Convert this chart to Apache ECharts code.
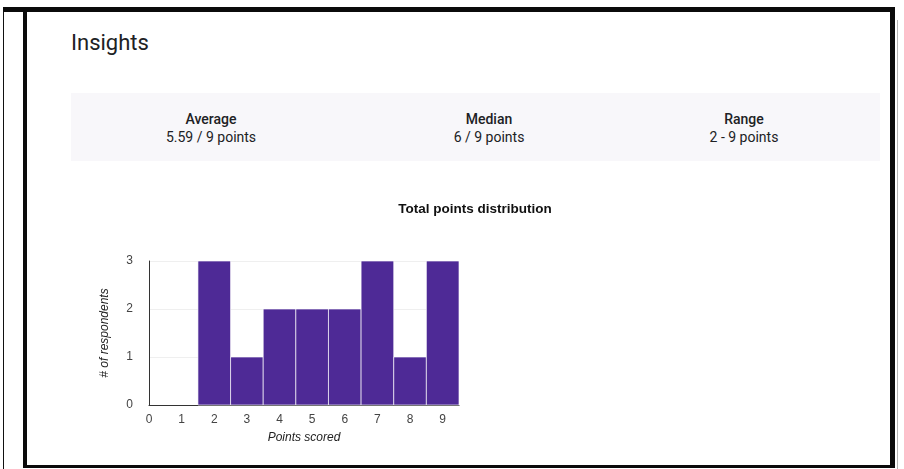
<!DOCTYPE html>
<html lang="en">

<head>
    <meta charset="UTF-8">
    <title>Insights</title>
    <script src="https://cdn.jsdelivr.net/npm/echarts@6/dist/echarts.min.js"></script>
    <style>
        body {
            margin: 0;
            width: 904px;
            height: 469px;
            background: #fff;
            position: relative;
            overflow: hidden;
            font-family: Roboto, "Noto Sans", sans-serif;
        }

        .abs {
            position: absolute;
        }

        #frame {
            left: 23px;
            top: 7px;
            width: 872px;
            height: 461px;
            box-sizing: border-box;
            border-top: 5px solid #0b0b0b;
            border-left: 4px solid #0b0b0b;
            border-right: 5px solid #0b0b0b;
            border-bottom: 3px solid #0b0b0b;
        }

        #heading {
            left: 71px;
            top: 30px;
            font-size: 22px;
            color: #202124;
        }

        #statbox {
            left: 71px;
            top: 93px;
            width: 809px;
            height: 68px;
            background: #f8f7fa;
        }

        .stat {
            top: 110px;
            width: 200px;
            margin-left: -100px;
            text-align: center;
            font-size: 14px;
            line-height: 18px;
            color: #202124;
        }

        .stat b {
            font-weight: 500;
        }

        #root {
            left: 0;
            top: 0;
            width: 904px;
            height: 469px;
        }
    </style>
</head>

<body>
    <div class="abs" style="left:3px;top:7px;width:1px;height:462px;background:#111"></div>
    <div class="abs" style="left:3px;top:7px;width:22px;height:5px;background:#0b0b0b"></div>
    <div class="abs" style="left:897px;top:20px;width:1px;height:449px;background:#b5b5b5"></div>
    <div id="frame" class="abs"></div>
    <div id="heading" class="abs">Insights</div>
    <div id="statbox" class="abs"></div>
    <div id="stats"></div>
    <div id="root" class="abs"></div>
    <script>
        // summary numbers
        var statLabels = ['Average', 'Median', 'Range'];
        var statValues = ['5.59 / 9 points', '6 / 9 points', '2 - 9 points'];
        var statCenters = [211, 489, 744];

        // histogram
        var points = [0, 1, 2, 3, 4, 5, 6, 7, 8, 9];
        var respondents = [0, 0, 3, 1, 2, 2, 2, 3, 1, 3];

        var statsEl = document.getElementById('stats');
        statLabels.forEach(function (lab, i) {
            var d = document.createElement('div');
            d.className = 'abs stat';
            d.style.left = statCenters[i] + 'px';
            d.innerHTML = '<b>' + lab + '</b><br>' + statValues[i];
            statsEl.appendChild(d);
        });

        var mychart = echarts.init(document.getElementById('root'));

        var axisFont = {
            fontFamily: 'Liberation Sans, Arial, sans-serif',
            fontSize: 12,
            color: '#444'
        };

        mychart.setOption({
            animation: false,
            graphic: [{
                type: 'text',
                x: 475,
                y: 209,
                style: {
                    text: 'Total points distribution',
                    fontFamily: 'Liberation Sans, Arial, sans-serif',
                    fontSize: 13.5,
                    fontWeight: 'bold',
                    fill: '#111',
                    align: 'center',
                    verticalAlign: 'middle'
                }
            }],
            grid: {
                left: 149,
                top: 261,
                width: 310,
                height: 144
            },
            xAxis: {
                type: 'value',
                min: 0,
                max: 9.5,
                interval: 1,
                name: 'Points scored',
                nameLocation: 'middle',
                nameGap: 27,
                nameTextStyle: {
                    fontFamily: 'Liberation Sans, Arial, sans-serif',
                    fontSize: 12,
                    fontStyle: 'italic',
                    color: '#222'
                },
                axisLine: { show: true, lineStyle: { color: '#333', width: 1 } },
                axisTick: { show: false },
                splitLine: { show: false },
                axisLabel: Object.assign({
                    margin: 9,
                    formatter: function (v) {
                        return v % 1 === 0 ? String(v) : '';
                    }
                }, axisFont)
            },
            yAxis: {
                type: 'value',
                min: 0,
                max: 3,
                interval: 1,
                name: '# of respondents',
                nameLocation: 'middle',
                nameGap: 38,
                nameTextStyle: {
                    fontFamily: 'Liberation Sans, Arial, sans-serif',
                    fontSize: 12,
                    fontStyle: 'italic',
                    color: '#222'
                },
                axisLine: { show: true, lineStyle: { color: '#333', width: 1 } },
                axisTick: { show: false },
                splitLine: { show: true, lineStyle: { color: '#efefef' } },
                axisLabel: Object.assign({ margin: 16 }, axisFont)
            },
            series: [{
                type: 'custom',
                data: points.map(function (p, i) {
                    return [p, respondents[i]];
                }),
                encode: { x: 0, y: 1 },
                renderItem: function (params, api) {
                    var x = api.value(0);
                    var y = api.value(1);
                    if (!y) return;
                    var a = api.coord([x - 0.5, y]);
                    var b = api.coord([x + 0.5, 0]);
                    return {
                        type: 'rect',
                        shape: { x: a[0], y: a[1], width: b[0] - a[0], height: b[1] - a[1] },
                        style: {
                            fill: '#4e2a96',
                            stroke: 'rgba(255,255,255,0.65)',
                            lineWidth: 1
                        }
                    };
                }
            }]
        });
    </script>
</body>

</html>
